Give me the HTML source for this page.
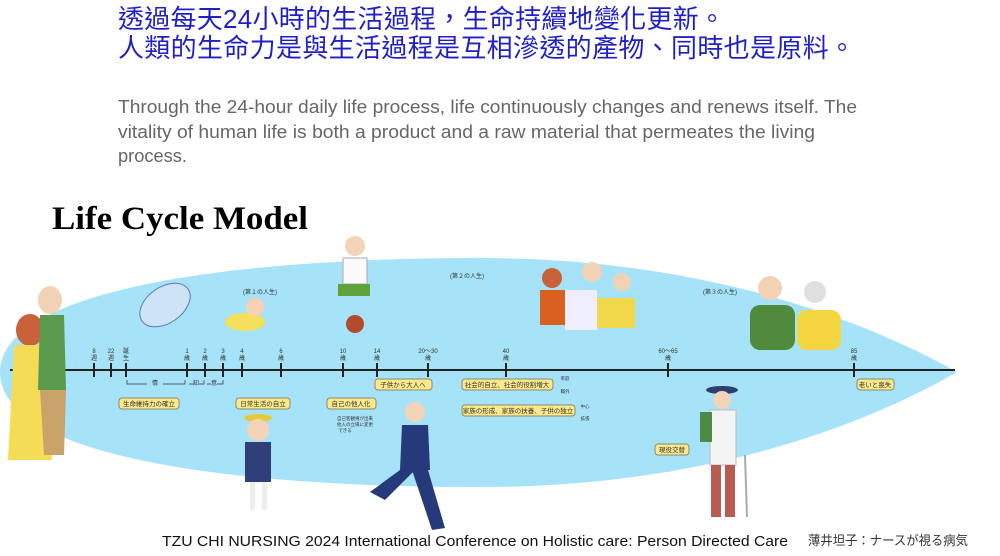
<!DOCTYPE html>
<html><head><meta charset="utf-8"><style>
html,body{margin:0;padding:0;background:#fff;}
svg{display:block}
</style></head><body>
<svg width="1000" height="556" viewBox="0 0 1000 556" xmlns="http://www.w3.org/2000/svg" font-family="Liberation Sans, Noto Sans CJK JP, sans-serif">
<rect width="1000" height="556" fill="#fff"/>
<text x="118" y="28" font-size="26" fill="#1f1fc8" font-family="Liberation Sans, Noto Sans CJK TC, sans-serif" textLength="607">透過每天24小時的生活過程，生命持續地變化更新。</text>
<text x="118" y="57" font-size="26" fill="#1f1fc8" font-family="Liberation Sans, Noto Sans CJK TC, sans-serif" textLength="737">人類的生命力是與生活過程是互相滲透的產物、同時也是原料。</text>
<g font-size="18" fill="#666">
<text x="118" y="113" textLength="739" lengthAdjust="spacingAndGlyphs">Through the 24-hour daily life process, life continuously changes and renews itself. The</text>
<text x="118" y="138" textLength="697" lengthAdjust="spacingAndGlyphs">vitality of human life is both a product and a raw material that permeates the living</text>
<text x="118" y="162" textLength="69" lengthAdjust="spacingAndGlyphs">process.</text>
</g>
<text x="52" y="229" font-size="33" font-weight="bold" font-family="Liberation Serif, serif" fill="#000" textLength="256" lengthAdjust="spacingAndGlyphs">Life Cycle Model</text>

<path d="M0,372 C0,292 220,258 480,258 C700,258 860,318 957,372 C860,428 700,487 480,487 C220,487 0,455 0,372 Z" fill="#a6e3f8"/>

<!-- timeline -->
<line x1="10" y1="370" x2="955" y2="370" stroke="#222" stroke-width="2"/>
<g stroke="#222" stroke-width="2">
<line x1="94" y1="363" x2="94" y2="377"/><line x1="111" y1="363" x2="111" y2="377"/><line x1="126" y1="363" x2="126" y2="377"/>
<line x1="187" y1="363" x2="187" y2="377"/><line x1="205" y1="363" x2="205" y2="377"/><line x1="223" y1="363" x2="223" y2="377"/>
<line x1="242" y1="363" x2="242" y2="377"/><line x1="281" y1="363" x2="281" y2="377"/><line x1="343" y1="363" x2="343" y2="377"/>
<line x1="377" y1="363" x2="377" y2="377"/><line x1="428" y1="363" x2="428" y2="377"/><line x1="506" y1="363" x2="506" y2="377"/>
<line x1="668" y1="363" x2="668" y2="377"/><line x1="854" y1="363" x2="854" y2="377"/>
</g>
<g font-size="6" fill="#333" text-anchor="middle">
<text x="94" y="353">8</text><text x="94" y="360">週</text>
<text x="111" y="353">22</text><text x="111" y="360">週</text>
<text x="126" y="353">誕</text><text x="126" y="360">生</text>
<text x="187" y="353">1</text><text x="187" y="360">歳</text>
<text x="205" y="353">2</text><text x="205" y="360">歳</text>
<text x="223" y="353">3</text><text x="223" y="360">歳</text>
<text x="242" y="353">4</text><text x="242" y="360">歳</text>
<text x="281" y="353">6</text><text x="281" y="360">歳</text>
<text x="343" y="353">10</text><text x="343" y="360">歳</text>
<text x="377" y="353">14</text><text x="377" y="360">歳</text>
<text x="428" y="353">20〜30</text><text x="428" y="360">歳</text>
<text x="506" y="353">40</text><text x="506" y="360">歳</text>
<text x="668" y="353">60〜65</text><text x="668" y="360">歳</text>
<text x="854" y="353">85</text><text x="854" y="360">歳</text>
<text x="260" y="294">(第１の人生)</text><text x="467" y="278">(第２の人生)</text><text x="720" y="294">(第３の人生)</text>
<text x="155" y="385">情</text><text x="196" y="385">知</text><text x="214" y="385">意</text>
</g>
<path d="M127,380v4h20 M163,384h22v-4 M189,384h5 M199,384h5v-4 M207,384h4 M217,384h6v-4" stroke="#333" stroke-width="0.7" fill="none"/>
<g font-size="6.5" fill="#333" text-anchor="middle">
<rect x="119" y="398" width="60" height="11" rx="3" fill="#fbe98a" stroke="#887"/><text x="149" y="406">生命維持力の確立</text>
<rect x="236" y="398" width="54" height="11" rx="3" fill="#fbe98a" stroke="#887"/><text x="263" y="406">日常生活の自立</text>
<rect x="327" y="398" width="49" height="11" rx="3" fill="#fbe98a" stroke="#887"/><text x="351" y="406">自己の他人化</text>
<rect x="375" y="379" width="57" height="11" rx="3" fill="#fbe98a" stroke="#887"/><text x="403" y="387">子供から大人へ</text>
<rect x="462" y="379" width="91" height="11" rx="3" fill="#fbe98a" stroke="#887"/><text x="507" y="387">社会的自立、社会的役割増大</text>
<rect x="462" y="405" width="113" height="11" rx="3" fill="#fbe98a" stroke="#887"/><text x="518" y="413">家族の形成、家族の扶養、子供の独立</text>
<rect x="857" y="379" width="37" height="11" rx="3" fill="#fbe98a" stroke="#887"/><text x="875" y="387">老いと喪失</text>
<rect x="655" y="444" width="34" height="11" rx="3" fill="#fbe98a" stroke="#887"/><text x="672" y="452">現役交替</text>
</g>
<g font-size="4.5" fill="#333" text-anchor="middle"><text x="355" y="420">自己客観視が出来</text><text x="355" y="426">他人の立場に変更</text><text x="345" y="432">できる</text>
<text x="565" y="380">家庭</text><text x="565" y="393">職外</text><text x="585" y="408">中心</text><text x="585" y="420">拡張</text></g>

<!-- figures (approximate) -->
<g>
<!-- couple left -->
<ellipse cx="30" cy="330" rx="14" ry="16" fill="#c9613b"/>
<path d="M14,345 L44,345 L52,460 L8,460 Z" fill="#f5dc57"/>
<ellipse cx="50" cy="300" rx="12" ry="14" fill="#f2d2b5"/>
<path d="M40,315 L64,315 L66,390 L38,390 Z" fill="#5a9a4c"/>
<path d="M40,390 L66,390 L64,455 L44,455 Z" fill="#caa36b"/>
<!-- baby -->
<ellipse cx="165" cy="305" rx="28" ry="18" fill="#cfe3f7" stroke="#5a7db5" transform="rotate(-35 165 305)"/>
<!-- crawling -->
<ellipse cx="245" cy="322" rx="20" ry="9" fill="#f4e05c"/><circle cx="255" cy="307" r="9" fill="#f6d1b5"/>
<!-- runner -->
<circle cx="355" cy="246" r="10" fill="#f4d4b8"/><rect x="343" y="258" width="24" height="26" fill="#fafafa" stroke="#aaa"/>
<rect x="338" y="284" width="32" height="12" fill="#5ea33c"/><circle cx="355" cy="324" r="9" fill="#b24a2f"/>
<!-- trio -->
<rect x="540" y="290" width="25" height="35" fill="#d9601f"/><rect x="565" y="290" width="32" height="40" fill="#eef"/><rect x="597" y="298" width="38" height="30" fill="#f0d84a"/>
<circle cx="552" cy="278" r="10" fill="#c9613b"/><circle cx="592" cy="272" r="10" fill="#f1d2b4"/><circle cx="622" cy="282" r="9" fill="#f1d2b4"/>
<!-- elderly -->
<circle cx="770" cy="288" r="12" fill="#f1d2b4"/><rect x="750" y="305" width="45" height="45" rx="10" fill="#4f8a3d"/>
<circle cx="815" cy="292" r="11" fill="#e0e0e0"/><rect x="797" y="310" width="44" height="40" rx="10" fill="#f3d640"/>
<!-- school kid -->
<ellipse cx="258" cy="418" rx="14" ry="4" fill="#e5cb3c"/><circle cx="258" cy="430" r="11" fill="#f4d4b8"/>
<rect x="245" y="442" width="26" height="40" fill="#2f3f7a"/><rect x="250" y="482" width="5" height="28" fill="#eee"/><rect x="262" y="482" width="5" height="28" fill="#eee"/>
<!-- businessman -->
<circle cx="415" cy="412" r="10" fill="#f4d4b8"/><path d="M402,425 L428,425 L430,470 L400,470 Z" fill="#26397a"/>
<path d="M400,470 L415,470 L385,500 L370,492 Z M412,470 L428,470 L445,528 L432,530 Z" fill="#26397a"/>
<!-- hiker -->
<ellipse cx="722" cy="390" rx="16" ry="4" fill="#2e3f6e"/><circle cx="722" cy="400" r="9" fill="#f4d4b8"/>
<rect x="710" y="410" width="26" height="55" fill="#f4f4f4" stroke="#bbb"/><rect x="700" y="412" width="12" height="30" fill="#4e8a45"/>
<rect x="711" y="465" width="10" height="52" fill="#b85b50"/><rect x="725" y="465" width="10" height="52" fill="#b85b50"/>
<line x1="745" y1="455" x2="747" y2="517" stroke="#aaa" stroke-width="2"/>
</g>

<text x="162" y="546" font-size="14.5" fill="#111" textLength="626" lengthAdjust="spacingAndGlyphs">TZU CHI NURSING 2024 International Conference on Holistic care: Person Directed Care</text>
<text x="808" y="545" font-size="13" fill="#333" font-family="Liberation Sans, Noto Sans CJK JP, sans-serif" textLength="160" lengthAdjust="spacingAndGlyphs">薄井坦子：ナースが視る病気</text>
</svg>
</body></html>
